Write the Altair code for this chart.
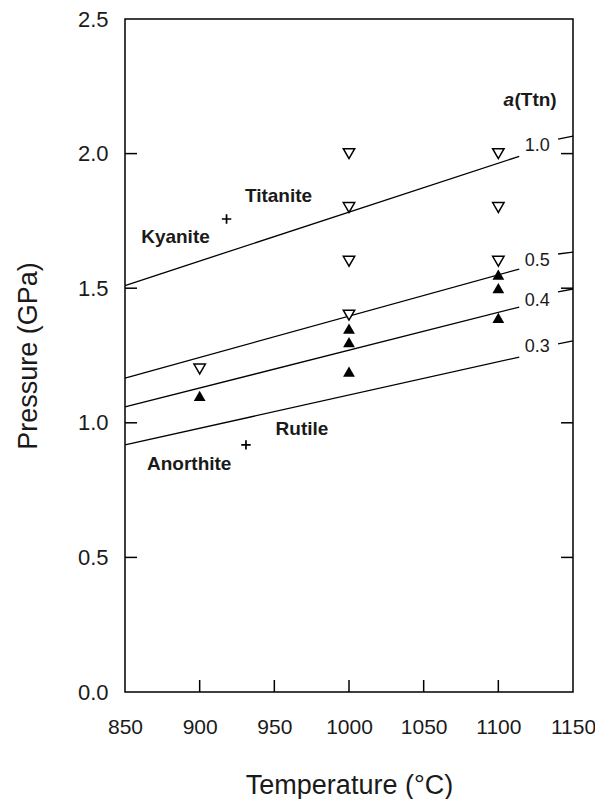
import altair as alt
import pandas as pd

# ---- data ----
open_T = [900, 1000, 1000, 1000, 1000, 1100, 1100, 1100]
open_P = [1.20, 2.00, 1.80, 1.60, 1.40, 2.00, 1.80, 1.60]
filled_T = [900, 1000, 1000, 1000, 1100, 1100, 1100]
filled_P = [1.10, 1.35, 1.30, 1.19, 1.55, 1.50, 1.39]

cross_T = [918, 931]
cross_P = [1.757, 0.918]

mineral_names = ["Titanite", "Kyanite", "Rutile", "Anorthite"]
mineral_T = [952.8, 883.8, 968.5, 893]
mineral_P = [1.843, 1.69, 0.977, 0.847]

line_labels = ["1.0", "0.5", "0.4", "0.3"]
line_T = [850, 1114, 1140, 1150]          # start, gap start, gap end, end
line_P_start = [1.51, 1.166, 1.059, 0.918]
line_P_gap1 = [1.99, 1.571, 1.43, 1.244]
line_P_gap2 = [2.054, 1.627, 1.486, 1.293]
line_P_end = [2.065, 1.634, 1.497, 1.304]
label_T = 1126
label_P = [2.028, 1.601, 1.452, 1.28]

x_ticks = [900, 950, 1000, 1050, 1100]
y_ticks = [0.5, 1.0, 1.5, 2.0]
x_tick_labels = [850, 900, 950, 1000, 1050, 1100, 1150]
y_tick_labels = [0.0, 0.5, 1.0, 1.5, 2.0, 2.5]

W, H = 448, 673
FONT = "Liberation Sans"
INK = "#1a1a1a"

# ---- tables ----
open_df = pd.DataFrame({"T": open_T, "P": open_P})
filled_df = pd.DataFrame({"T": filled_T, "P": filled_P})
cross_df = pd.DataFrame({"T": cross_T, "P": cross_P})
min_df = pd.DataFrame({"T": mineral_T, "P": mineral_P, "name": mineral_names})

rows = []
for i, lab in enumerate(line_labels):
    rows.append({"seg": f"{lab}-a", "T": line_T[0], "P": line_P_start[i]})
    rows.append({"seg": f"{lab}-a", "T": line_T[1], "P": line_P_gap1[i]})
    rows.append({"seg": f"{lab}-b", "T": line_T[2], "P": line_P_gap2[i]})
    rows.append({"seg": f"{lab}-b", "T": line_T[3], "P": line_P_end[i]})
lines_df = pd.DataFrame(rows)
lab_df = pd.DataFrame({"T": [label_T] * len(line_labels), "P": label_P, "lab": line_labels})

xscale = alt.Scale(domain=[850, 1150], nice=False, zero=False)
yscale = alt.Scale(domain=[0, 2.5], nice=False, zero=False)

X = alt.X("T:Q", scale=xscale,
          axis=alt.Axis(title="Temperature (°C)", values=x_tick_labels, format="d",
                        tickSize=0, labelPadding=24, titlePadding=35, grid=False,
                        domain=False, labelFlush=False, labelOverlap=False, labelFontSize=21))
Y = alt.Y("P:Q", scale=yscale,
          axis=alt.Axis(title="Pressure (GPa)", values=y_tick_labels, format=".1f",
                        tickSize=0, labelPadding=17, titlePadding=35, grid=False,
                        domain=False, labelFlush=False, labelOverlap=False))

lines = alt.Chart(lines_df).mark_line(color="black", strokeWidth=1.3).encode(
    x=X, y=Y, detail="seg:N")

open_pts = alt.Chart(open_df).mark_point(
    shape="triangle-down", filled=True, fill="white", stroke="black", strokeWidth=1.5,
    size=130, opacity=1).encode(x="T:Q", y="P:Q")

filled_pts = alt.Chart(filled_df).mark_point(
    shape="triangle-up", filled=True, fill="black", color="black", size=140, opacity=1
).encode(x="T:Q", y="P:Q")

crosses = alt.Chart(cross_df).mark_point(
    shape="M-1,0H1M0,-1V1", stroke="black", strokeWidth=1.7, size=90, opacity=1
).encode(x="T:Q", y="P:Q")

min_text = alt.Chart(min_df).mark_text(
    font=FONT, fontSize=19, fontWeight="bold", color=INK, align="center", baseline="middle"
).encode(x="T:Q", y="P:Q", text="name:N")

lab_text = alt.Chart(lab_df).mark_text(
    font=FONT, fontSize=18, color=INK, align="center", baseline="middle"
).encode(x="T:Q", y="P:Q", text="lab:N")

a_df = pd.DataFrame({"T": [1110.5], "P": [2.2], "t": ["a"]})
ttn_df = pd.DataFrame({"T": [1110.8], "P": [2.2], "t": ["(Ttn)"]})
a_text = alt.Chart(a_df).mark_text(
    font=FONT, fontSize=19, fontWeight="bold", fontStyle="italic", color=INK,
    align="right", baseline="middle").encode(x="T:Q", y="P:Q", text="t:N")
ttn_text = alt.Chart(ttn_df).mark_text(
    font=FONT, fontSize=19, fontWeight="bold", color=INK,
    align="left", baseline="middle").encode(x="T:Q", y="P:Q", text="t:N")

xt_df = pd.DataFrame({"T": x_ticks})
yt_df = pd.DataFrame({"P": y_ticks})
x_tick_marks = alt.Chart(xt_df).mark_rule(color="black", strokeWidth=1.5).encode(
    x="T:Q", y=alt.value(H), y2=alt.value(H - 12))
y_tick_left = alt.Chart(yt_df).mark_rule(color="black", strokeWidth=1.5).encode(
    y="P:Q", x=alt.value(0), x2=alt.value(12))
y_tick_right = alt.Chart(yt_df).mark_rule(color="black", strokeWidth=1.5).encode(
    y="P:Q", x=alt.value(W), x2=alt.value(W - 12))

chart = alt.layer(
    lines, x_tick_marks, y_tick_left, y_tick_right,
    open_pts, filled_pts, crosses, min_text, lab_text, a_text, ttn_text
).properties(
    width=W, height=H,
    autosize=alt.AutoSizeParams(type="none"),
    padding={"left": 117, "top": 11, "right": 22, "bottom": 107},
).configure_view(
    stroke="black", strokeWidth=1.5
).configure_axis(
    labelFont=FONT, titleFont=FONT, labelFontSize=22, titleFontSize=27,
    labelColor=INK, titleColor=INK, titleFontWeight="normal"
)

chart.save("out.html", embed_options={"renderer": "svg", "actions": False})
